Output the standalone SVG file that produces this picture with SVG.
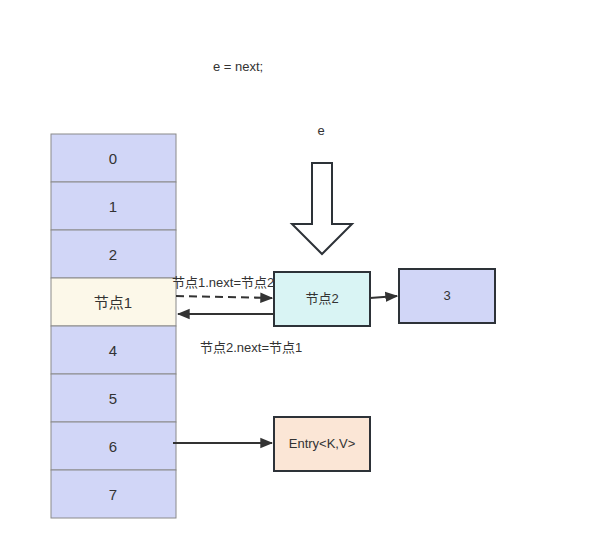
<svg xmlns="http://www.w3.org/2000/svg" width="606" height="539" viewBox="0 0 606 539">
<style>
text{font-family:"Liberation Sans","Noto Sans CJK SC",sans-serif;fill:#333}
.cell{fill:#d1d6f7;stroke:#8a8a8a;stroke-width:1}
.num{font-size:15px;text-anchor:middle}
.node{stroke:#2d3238;stroke-width:2}
.lbl{font-size:13px;text-anchor:middle}
.con{stroke:#333;stroke-width:2;fill:none}
</style>
<defs>
<marker id="ah" viewBox="0 0 10 10" refX="9" refY="5" markerWidth="6.5" markerHeight="6.5" orient="auto" markerUnits="strokeWidth">
<path d="M0,1 L10,5 L0,9 Z" fill="#333"/>
</marker>
</defs>
<rect width="606" height="539" fill="#fff"/>
<text x="238" y="71" class="lbl">e = next;</text>
<text x="321" y="135" class="lbl">e</text>
<g id="array">
<rect class="cell" x="51" y="134" width="125" height="48"/>
<rect class="cell" x="51" y="182" width="125" height="48"/>
<rect class="cell" x="51" y="230" width="125" height="48"/>
<rect class="cell" x="51" y="278" width="125" height="48" style="fill:#fcf8e9"/>
<rect class="cell" x="51" y="326" width="125" height="48"/>
<rect class="cell" x="51" y="374" width="125" height="48"/>
<rect class="cell" x="51" y="422" width="125" height="48"/>
<rect class="cell" x="51" y="470" width="125" height="48"/>
<text class="num" x="113" y="164">0</text>
<text class="num" x="113" y="212">1</text>
<text class="num" x="113" y="260">2</text>
<text class="num" x="113" y="308">节点1</text>
<text class="num" x="113" y="356">4</text>
<text class="num" x="113" y="404">5</text>
<text class="num" x="113" y="452">6</text>
<text class="num" x="113" y="500">7</text>
</g>
<g id="pointer">
<path d="M312,163 H332 V224 H352 L322,254 L292,224 H312 Z" fill="#fff" stroke="#2d3238" stroke-width="2"/>
</g>
<g id="node2">
<rect class="node" x="274" y="272" width="96" height="54" fill="#d9f4f4"/>
<text class="lbl" x="322" y="303">节点2</text>
</g>
<g id="node3">
<rect class="node" x="399" y="269" width="96" height="54" fill="#d1d6f7"/>
<text class="lbl" x="447" y="300">3</text>
</g>
<g id="entry">
<rect class="node" x="274" y="417" width="96" height="54" fill="#fbe6d6"/>
<text class="lbl" x="322" y="448">Entry&lt;K,V&gt;</text>
</g>
<g id="connectors">
<path class="con" d="M176,296 L272,298" stroke-dasharray="8,5" marker-end="url(#ah)"/>
<path class="con" d="M274,314 L178,314" marker-end="url(#ah)"/>
<path class="con" d="M370,298 L397,296" marker-end="url(#ah)"/>
<path class="con" d="M173,443 L272,443" marker-end="url(#ah)"/>
<text x="172" y="287" style="font-size:13px">节点1.next=节点2</text>
<text x="200" y="352" style="font-size:13px">节点2.next=节点1</text>
</g>
</svg>
